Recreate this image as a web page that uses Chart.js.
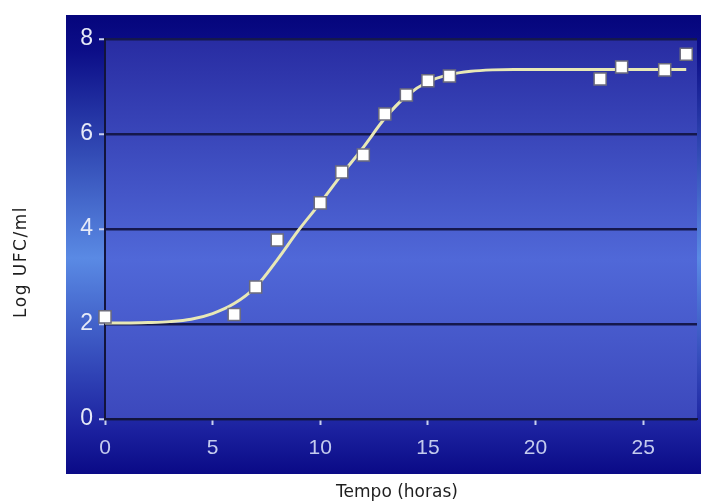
<html>
  <head>
    <script src="https://cdn.jsdelivr.net/npm/chart.js"></script>
    <style>
      body { margin: 0; background: #ffffff; }
    </style>
  </head>
  <body>
    <canvas id="myChart" width="702" height="504"></canvas>
    <script>
      // measured points (Tempo em horas, Log UFC/ml)
      const hours = [0, 6, 7, 8, 10, 11, 12, 13, 14, 15, 16, 23, 24, 26, 27];
      const logUfc = [2.15, 2.2, 2.78, 3.77, 4.55, 5.2, 5.56, 6.42, 6.82, 7.12, 7.22, 7.16, 7.41, 7.35, 7.68];

      // fitted curve at each hour
      const fitHours = [0, 1, 2, 3, 4, 5, 6, 7, 8, 9, 10, 11, 12, 13, 14, 15, 16, 17, 18, 19, 20, 21, 22, 23, 24, 25, 26, 27];
      const fitLog = [2.02, 2.02, 2.03, 2.05, 2.1, 2.22, 2.43, 2.78, 3.35, 3.98, 4.55, 5.15, 5.72, 6.33, 6.8, 7.1, 7.25, 7.32, 7.35, 7.36, 7.36, 7.36, 7.36, 7.36, 7.36, 7.36, 7.36, 7.36];

      const xTicks = [0, 5, 10, 15, 20, 25];
      const yTicks = [0, 2, 4, 6, 8];

      const xTitle = 'Tempo (horas)';
      const yTitle = 'Log UFC/ml';

      // blue panel behind everything + lighter gradient in the plot area
      const panelBg = {
        id: 'panelBg',
        beforeDraw(chart) {
          const ctx = chart.ctx;
          const a = chart.chartArea;
          ctx.save();
          ctx.fillStyle = '#ffffff';
          ctx.fillRect(0, 0, chart.width, chart.height);

          const top = 15, bottom = 474, left = 66, right = 701;
          let g = ctx.createLinearGradient(0, top, 0, bottom);
          g.addColorStop(0, '#05057c');
          g.addColorStop(0.08, '#0c0e88');
          g.addColorStop(0.53, '#5a8ae4');
          g.addColorStop(0.9, '#1c22a0');
          g.addColorStop(1, '#0a0a86');
          ctx.fillStyle = g;
          ctx.fillRect(left, top, right - left, bottom - top);

          g = ctx.createLinearGradient(0, a.top, 0, a.bottom);
          g.addColorStop(0, '#282ca2');
          g.addColorStop(0.58, '#5068d8');
          g.addColorStop(1, '#3c48bc');
          ctx.fillStyle = g;
          ctx.fillRect(a.left, a.top, a.right - a.left, a.bottom - a.top);
          ctx.restore();
        },
        afterDraw(chart) {
          const ctx = chart.ctx;
          ctx.save();
          ctx.fillStyle = '#1e1e1e';
          ctx.font = '17px "DejaVu Sans"';
          ctx.textAlign = 'center';
          ctx.textBaseline = 'middle';
          ctx.fillText(xTitle, 397, 493);
          ctx.translate(22, 262);
          ctx.rotate(-Math.PI / 2);
          ctx.letterSpacing = '1.5px';
          ctx.fillText(yTitle, 0, 0);
          ctx.restore();
        }
      };

      const config = {
        type: 'scatter',
        data: {
          datasets: [
            {
              label: 'pontos',
              data: hours.map((h, i) => ({ x: h, y: logUfc[i] })),
              pointStyle: 'rect',
              pointRadius: 8.5,
              pointBackgroundColor: '#ffffff',
              pointBorderColor: '#6c6c7c',
              pointBorderWidth: 1.5,
              clip: false,
              order: 0
            },
            {
              label: 'ajuste',
              type: 'line',
              data: fitHours.map((h, i) => ({ x: h, y: fitLog[i] })),
              borderColor: '#e8e8b6',
              borderWidth: 3,
              pointRadius: 0,
              fill: false,
              cubicInterpolationMode: 'monotone',
              order: 1
            }
          ]
        },
        options: {
          responsive: false,
          animation: false,
          devicePixelRatio: 1,
          layout: { autoPadding: false, padding: { top: 39, right: 5, left: 0, bottom: 0 } },
          plugins: {
            legend: { display: false },
            tooltip: { enabled: false }
          },
          scales: {
            x: {
              type: 'linear',
              min: 0,
              max: 27.5,
              afterBuildTicks: s => { s.ticks = xTicks.map(v => ({ value: v })); },
              afterFit: s => { s.height = 85; },
              ticks: {
                color: '#c4cbee',
                font: { family: '"Liberation Sans"', size: 21 },
                padding: 11
              },
              grid: {
                drawOnChartArea: false,
                tickLength: 6,
                tickColor: '#c8d0f0',
                tickWidth: 2
              },
              border: { color: '#12143c', width: 2 }
            },
            y: {
              min: 0,
              max: 8,
              afterBuildTicks: s => { s.ticks = yTicks.map(v => ({ value: v })); },
              afterFit: s => { s.width = 105; },
              ticks: {
                color: '#e6eaf8',
                font: { family: '"Liberation Sans"', size: 23 },
                padding: 6
              },
              grid: {
                color: '#15184c',
                lineWidth: 2.5,
                tickLength: 6,
                tickColor: '#c8d0f0',
                tickWidth: 2
              },
              border: { color: '#12143c', width: 2 }
            }
          }
        },
        plugins: [panelBg]
      };

      const ctx = document.getElementById('myChart').getContext('2d');
      const myChart = new Chart(ctx, config);
    </script>
  </body>
</html>
